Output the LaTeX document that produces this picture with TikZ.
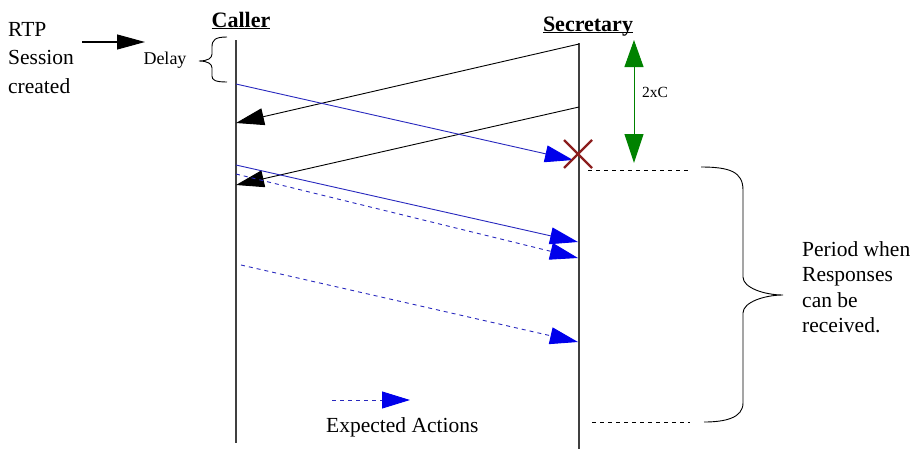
\documentclass[tikz,border=0pt]{standalone}
\usepackage{fontspec}
\setmainfont{Liberation Serif}
\usetikzlibrary{arrows.meta}
\definecolor{msgblue}{RGB}{0, 0, 235}
\definecolor{lineblue}{RGB}{40, 40, 190}
\definecolor{gapgreen}{RGB}{0, 130, 0}
\definecolor{lossred}{RGB}{140, 30, 30}

\begin{document}
\begin{tikzpicture}[x=1pt, y=-1pt,
    lifeline/.style={draw=black!75, line width=1.3pt},
    party/.style={anchor=base, inner sep=0pt, font=\fontsize{22}{26}\selectfont\bfseries},
    note/.style={anchor=north west, align=left, inner sep=0pt, font=\fontsize{21.5}{28.5}\selectfont},
    small/.style={inner sep=0pt, font=\fontsize{16}{18}\selectfont},
    reply/.style={draw=black, line width=0.9pt, -{Triangle[length=28pt,width=17pt]}},
    msg/.style={draw=lineblue, line width=0.9pt, -{Triangle[length=28pt,width=17pt,color=msgblue]}},
    expect/.style={msg, dash pattern=on 4pt off 4pt},
    curly/.style={draw=black, line width=0.9pt}
]
    \useasboundingbox (0,0) rectangle (914,450);

    % lifelines
    \node[party] (caller) at (241,27) {\underline{\smash{Caller}}};
    \node[party] (sec) at (588,31) {\underline{\smash{Secretary}}};
    \coordinate (cal top) at (236,40);
    \coordinate (cal bot) at (236,443);
    \coordinate (sec top) at (579,43);
    \coordinate (sec bot) at (579,449);
    \draw[lifeline] (cal top) -- (cal bot);
    \draw[lifeline] (sec top) -- (sec bot);

    % session start and delay
    \node[note] (rtp) at (8,22) {RTP\\Session\\created};
    \coordinate (rtp from) at (82,42);
    \coordinate (rtp to) at (145,42);
    \draw[line width=1.1pt, -{Triangle[length=28pt,width=15pt]}] (rtp from) -- (rtp to);
    \node[small, font=\fontsize{18}{20}\selectfont] (delay) at (165,60) {Delay};
    \draw[curly] (227,37) .. controls (215,37) and (212,40) .. (212,47) -- (212,54)
        .. controls (212,58) and (208,61) .. (199,61)
        .. controls (208,61) and (212,64) .. (212,68) -- (212,76)
        .. controls (212,80) and (215,82) .. (227,82);

    % responses from secretary
    \coordinate (sec1) at (579,44);
    \coordinate (cal1) at (236,123);
    \coordinate (sec2) at (579,107);
    \coordinate (cal2) at (236,185);
    \draw[reply] (sec1) -- (cal1);
    \draw[reply] (sec2) -- (cal2);

    % requests from caller
    \coordinate (cal3) at (236,84);
    \coordinate (lost) at (573,160);
    \coordinate (cal4) at (236,165);
    \coordinate (sec4) at (578,242);
    \coordinate (cal5) at (236,174);
    \coordinate (sec5) at (578,258);
    \coordinate (cal6) at (241,265);
    \coordinate (sec6) at (578,342);
    \draw[msg] (cal3) -- (lost);
    \draw[msg] (cal4) -- (sec4);
    \draw[expect] (cal5) -- (sec5);
    \draw[expect] (cal6) -- (sec6);
    \coordinate (cross) at (578,154);
    \draw[lossred, line width=2.4pt] (cross) +(-14,-14) -- +(14,14) (cross) +(-14,14) -- +(14,-14);

    % round trip
    \coordinate (rt top) at (634,40);
    \coordinate (rt bot) at (634,163);
    \draw[gapgreen, line width=1pt, {Triangle[length=27pt,width=19pt]}-{Triangle[length=29pt,width=19pt]}] (rt top) -- (rt bot);
    \node[small, anchor=west, font=\fontsize{15.5}{18}\selectfont] (twoc) at (642,92) {2xC};

    % response window
    \coordinate (win a) at (588,170);
    \coordinate (win b) at (688,170);
    \coordinate (win c) at (592,422);
    \coordinate (win d) at (690,422);
    \draw[dash pattern=on 4pt off 4pt, line width=0.8pt] (win a) -- (win b);
    \draw[dash pattern=on 4pt off 4pt, line width=0.8pt] (win c) -- (win d);
    \draw[curly] (701,167) .. controls (730,167) and (743,172) .. (743,190) -- (743,277)
        .. controls (743,288) and (765,295) .. (783,295)
        .. controls (765,295) and (743,302) .. (743,313) -- (743,403)
        .. controls (743,418) and (725,422) .. (704,422);
    \node[note, font=\fontsize{21.5}{25.5}\selectfont] (period) at (802,241) {Period when\\Responses\\can be\\received.};

    % legend
    \coordinate (leg from) at (332,400);
    \coordinate (leg to) at (410,400);
    \draw[expect] (leg from) -- (leg to);
    \node[anchor=base west, inner sep=0pt, font=\fontsize{21.5}{24}\selectfont] (legend) at (326,432) {Expected Actions};
\end{tikzpicture}
\end{document}
